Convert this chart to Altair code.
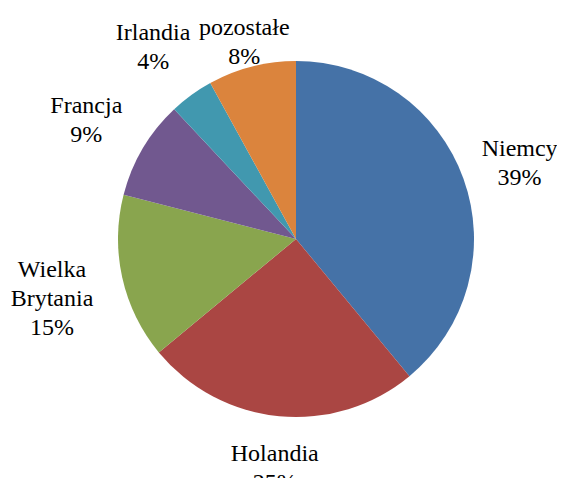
import altair as alt
import pandas as pd

categories = ["Niemcy", "Holandia", "Wielka Brytania", "Francja", "Irlandia", "pozostałe"]
label_text = ["Niemcy\n39%", "Holandia\n25%", "Wielka\nBrytania\n15%", "Francja\n9%", "Irlandia\n4%", "pozostałe\n8%"]
values = [39, 25, 15, 9, 4, 8]
colors = ["#4572A7", "#AA4643", "#89A54E", "#71588F", "#4198AF", "#DB843D"]

df = pd.DataFrame({
    "kraj": categories,
    "etykieta": label_text,
    "udzial": values,
    "kolejnosc": list(range(len(categories))),
})

# layout constants (pixels)
CX, CY = 288, 231          # pie centre
R_PIE = 178                # pie radius
R0 = 199                   # distance of label box from centre
LH = 29                    # line height
CHAR_W = 5.5               # half of average glyph width
TOP_MIN = 7                # labels stay inside chart area
Y_SHIFT = 5                # visual centring of glyphs
FONT = "Liberation Serif"
FS = 24

pie = alt.Chart(df).mark_arc(outerRadius=R_PIE).encode(
    theta=alt.Theta("udzial:Q", stack=True),
    order=alt.Order("kolejnosc:Q"),
    color=alt.Color("kraj:N", scale=alt.Scale(domain=categories, range=colors), legend=None),
    x=alt.value(CX),
    y=alt.value(CY),
)

ln = "split(datum.etykieta, '\\n')"
label_base = alt.Chart(df).transform_joinaggregate(
    total="sum(udzial)"
).transform_window(
    cum="sum(udzial)", sort=[alt.SortField("kolejnosc")], frame=[None, 0]
).transform_calculate(
    ang="(datum.cum - datum.udzial / 2) / datum.total * 2 * PI",
    nl=f"length({ln})",
    mc=f"max(length({ln}[0] || ''), length({ln}[1] || ''), length({ln}[2] || ''))",
).transform_calculate(
    hw=f"datum.mc * {CHAR_W}",
    hh=f"((datum.nl - 1) * {LH} + 16) / 2",
).transform_calculate(
    r0=f"{R0} + abs(sin(datum.ang)) * datum.hw + abs(cos(datum.ang)) * datum.hh",
).transform_calculate(
    r=f"cos(datum.ang) > 0 ? min(datum.r0, ({CY} - {TOP_MIN} - datum.hh) / cos(datum.ang)) : datum.r0",
).transform_calculate(
    lx=f"{CX} + datum.r * sin(datum.ang)",
    ly0=f"{CY} - datum.r * cos(datum.ang) - (datum.nl - 1) * {LH} / 2 + {Y_SHIFT}",
)

layers = [pie]
for k in range(3):
    layers.append(
        label_base.transform_calculate(
            t=f"{ln}[{k}] || ''",
            ly=f"datum.ly0 + {k} * {LH}",
        ).mark_text(
            font=FONT, fontSize=FS, color="black", align="center", baseline="middle",
        ).encode(
            x=alt.X("lx:Q", scale=None, axis=None),
            y=alt.Y("ly:Q", scale=None, axis=None),
            text="t:N",
        )
    )

chart = alt.layer(*layers).properties(
    width=549, height=470,
    autosize=alt.AutoSizeParams(type="none"),
    padding=0,
).configure_view(stroke=None)

chart.save("out.html", embed_options={"renderer": "svg", "actions": False})
